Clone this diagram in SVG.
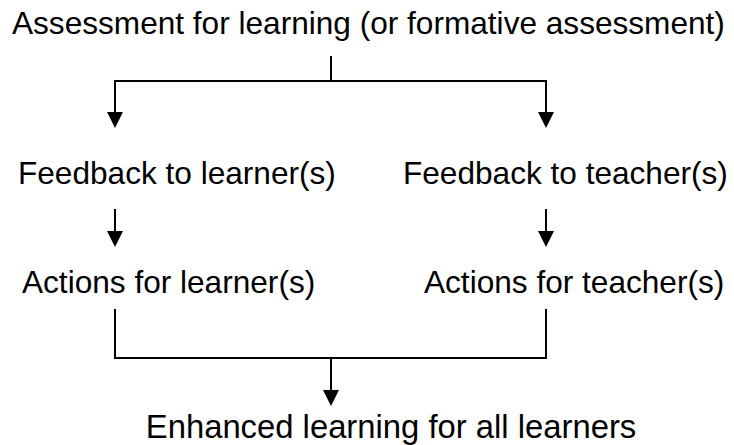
<svg xmlns="http://www.w3.org/2000/svg" width="734" height="445" viewBox="0 0 734 445">
<style>
text{font-family:"Liberation Sans",Arial,sans-serif;font-size:31.6px;fill:#000}
.c{fill:none;stroke:#000;stroke-width:2}
.h{fill:#000;stroke:none}
</style>
<rect width="734" height="445" fill="#fff"/>
<g id="n1"><text x="12" y="34">Assessment for learning (or formative assessment)</text></g>
<g id="n2"><text x="18" y="184">Feedback to learner(s)</text></g>
<g id="n3"><text x="403" y="184">Feedback to teacher(s)</text></g>
<g id="n4"><text x="22" y="293">Actions for learner(s)</text></g>
<g id="n5"><text x="424" y="293">Actions for teacher(s)</text></g>
<g id="n6"><text x="391" y="438" text-anchor="middle" style="font-size:32.8px">Enhanced learning for all learners</text></g>
<g id="connectors">
<path class="c" d="M331 56V81M115 113V81H546V113"/>
<path class="h" d="M107 112H123L115 128ZM538 112H554L546 128Z"/>
<path class="c" d="M115 209V232M546 209V232"/>
<path class="h" d="M107 231H123L115 247ZM538 231H554L546 247Z"/>
<path class="c" d="M115 309V358H546V309M331 358V391"/>
<path class="h" d="M323 390H339L331 406Z"/>
</g>
</svg>
